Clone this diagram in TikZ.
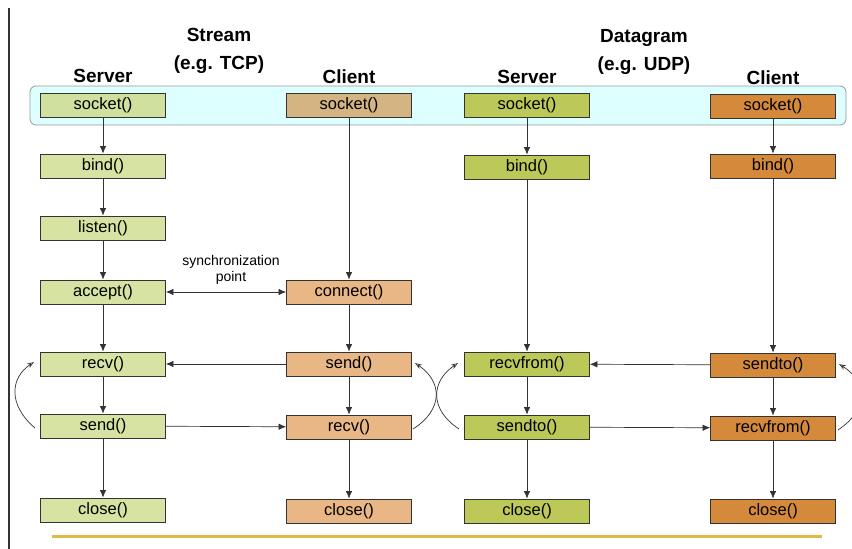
\documentclass[tikz,border=0pt]{standalone}
\usepackage{fontspec}
\setmainfont{Liberation Sans}
\usetikzlibrary{arrows.meta}
\definecolor{cA}{HTML}{D6E3A3}
\definecolor{cAs}{HTML}{CFE09F}
\definecolor{cB}{HTML}{E8B785}
\definecolor{cBs}{HTML}{D4B482}
\definecolor{cC}{HTML}{BCC857}
\definecolor{cD}{HTML}{D48A3A}
\definecolor{cyanbg}{HTML}{DDFFFF}
\definecolor{lncol}{HTML}{333333}
\definecolor{goldl}{HTML}{E0BA48}
\begin{document}
\begin{tikzpicture}[x=1pt,y=-1pt,
  fbox/.style={draw=lncol,line width=0.8pt,minimum width=125pt,minimum height=24pt,inner sep=0pt,font=\fontsize{16.5}{18}\selectfont},
  hdr/.style={font=\bfseries\fontsize{19}{21}\selectfont,inner sep=0pt},
  conn/.style={draw=lncol,line width=0.7pt,-{Latex[length=7.5pt,width=6.5pt]}},
  curv/.style={draw=lncol,line width=0.7pt,-{Stealth[length=7pt,width=5pt,open]}}]
\useasboundingbox (0,0) rectangle (852,549);
\draw[lncol,line width=1.6pt] (9,8) -- (9,549);
\draw[draw=gray!80,fill=cyanbg,rounded corners=6pt,line width=0.8pt] (30,86) rectangle (846,125);
% headers
\node[hdr] (hsrv1) at (103,76) {Server};
\node[hdr,align=center] (hstream) at (219,51) {Stream\\[7pt](e.g. TCP)};
\node[hdr] (hcli1) at (349,77) {Client};
\node[hdr] (hsrv2) at (527,77) {Server};
\node[hdr,align=center] (hdgram) at (644,52) {Datagram\\[7pt](e.g. UDP)};
\node[hdr] (hcli2) at (773,78) {Client};
% column 1
\node[fbox,fill=cAs] (a1) at (103,105) {socket()};
\node[fbox,fill=cA] (a2) at (103,166) {bind()};
\node[fbox,fill=cA] (a3) at (103,228) {listen()};
\node[fbox,fill=cA] (a4) at (103,292) {accept()};
\node[fbox,fill=cA] (a5) at (103,364) {recv()};
\node[fbox,fill=cA] (a6) at (103,426) {send()};
\node[fbox,fill=cA] (a7) at (103,510) {close()};
% column 2
\node[fbox,fill=cBs] (b1) at (349,105) {socket()};
\node[fbox,fill=cB] (b2) at (349,292) {connect()};
\node[fbox,fill=cB] (b3) at (349,364) {send()};
\node[fbox,fill=cB] (b4) at (349,427) {recv()};
\node[fbox,fill=cB] (b5) at (349,511) {close()};
% column 3
\node[fbox,fill=cC] (c1) at (527,105) {socket()};
\node[fbox,fill=cC] (c2) at (527,167) {bind()};
\node[fbox,fill=cC] (c3) at (527,364) {recvfrom()};
\node[fbox,fill=cC] (c4) at (527,427) {sendto()};
\node[fbox,fill=cC] (c5) at (527,511) {close()};
% column 4
\node[fbox,fill=cD] (d1) at (773,106) {socket()};
\node[fbox,fill=cD] (d2) at (773,166) {bind()};
\node[fbox,fill=cD] (d3) at (773,365) {sendto()};
\node[fbox,fill=cD] (d4) at (773,428) {recvfrom()};
\node[fbox,fill=cD] (d5) at (773,511) {close()};
% vertical connectors
\foreach \u/\v in {a1/a2,a2/a3,a3/a4,a4/a5,a5/a6,a6/a7,b1/b2,b2/b3,b3/b4,b4/b5,c1/c2,c2/c3,c3/c4,c4/c5,d1/d2,d2/d3,d3/d4,d4/d5}
  \draw[conn] (\u) -- (\v);
% horizontal connectors
\draw[conn] (b3) -- (a5);
\draw[conn] (a6) -- (b4);
\draw[conn] (d3) -- (c3);
\draw[conn] (c4) -- (d4);
\draw[draw=lncol,line width=0.7pt,{Latex[length=7.5pt,width=6.5pt]}-{Latex[length=7.5pt,width=6.5pt]}] (a4) -- (b2);
\node[font=\fontsize{14}{16}\selectfont,align=center,inner sep=0pt] (sync) at (231,270) {synchronization\\point};
% curved loop arrows
\coordinate (l1s) at (35,428);
\coordinate (l1e) at (34,362);
\draw[curv] (l1s) .. controls (8,405) and (10,378) .. (l1e);
\coordinate (l2s) at (413,429);
\coordinate (l2e) at (415,363);
\draw[curv] (l2s) .. controls (443,410) and (443,382) .. (l2e);
\coordinate (l3s) at (459,429);
\coordinate (l3e) at (458,363);
\draw[curv] (l3s) .. controls (430,410) and (430,382) .. (l3e);
\coordinate (l4s) at (838,430);
\coordinate (l4e) at (839,364);
\draw[curv] (l4s) .. controls (868,410) and (868,382) .. (l4e);
% bottom line
\draw[goldl,line width=3pt] (52,536) -- (822,536);
\end{tikzpicture}
\end{document}
